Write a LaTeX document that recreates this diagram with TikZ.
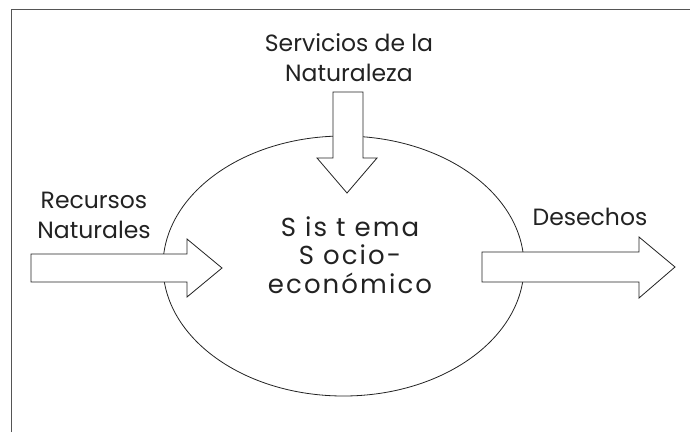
\documentclass[tikz,border=0pt]{standalone}
\usepackage{fontspec}
\usetikzlibrary{shapes.geometric}
\setmainfont{Poppins}
\newfontfamily\wide[LetterSpace=8]{Poppins}
\definecolor{ink}{HTML}{222222}
\definecolor{framec}{HTML}{555555}
\begin{document}
\begin{tikzpicture}[x=1pt,y=-1pt,
  lbl/.style={text=ink,font=\fontsize{23.5}{30}\selectfont,align=center,inner sep=0pt},
  ctr/.style={text=ink,font=\wide\fontsize{26}{28.5}\selectfont,align=center,inner sep=0pt},
  blockarrow/.style={draw=ink,line width=0.8pt,fill=white,line join=miter}]
\useasboundingbox (0,0) rectangle (690,432);
\draw[framec,line width=0.9pt] (11,432) -- (11,9) -- (690,9);
\node[draw=ink,line width=0.8pt,ellipse,minimum width=361pt,minimum height=260pt,inner sep=0pt] (sys) at (343.5,266) {};
% down arrow
\draw[blockarrow] (333,92) -- (363,92) -- (363,158) -- (377,158) -- (347,193) -- (317,158) -- (333,158) -- cycle;
% left arrow
\draw[blockarrow] (31,254) -- (187,254) -- (187,239) -- (222,268) -- (187,297) -- (187,282) -- (31,282) -- cycle;
% right arrow
\draw[blockarrow] (482,252) -- (639,252) -- (639,237) -- (675,267) -- (639,298) -- (639,282) -- (482,282) -- cycle;
\node[lbl] (serv) at (349,58) {Servicios de la\\Naturaleza};
\node[lbl] (rec) at (94,215) {Recursos\\Naturales};
\node[lbl] (des) at (590,217) {Desechos};
\node[ctr] (txt) at (350,255) {S is t ema\\S ocio-\\económico};
\end{tikzpicture}
\end{document}
